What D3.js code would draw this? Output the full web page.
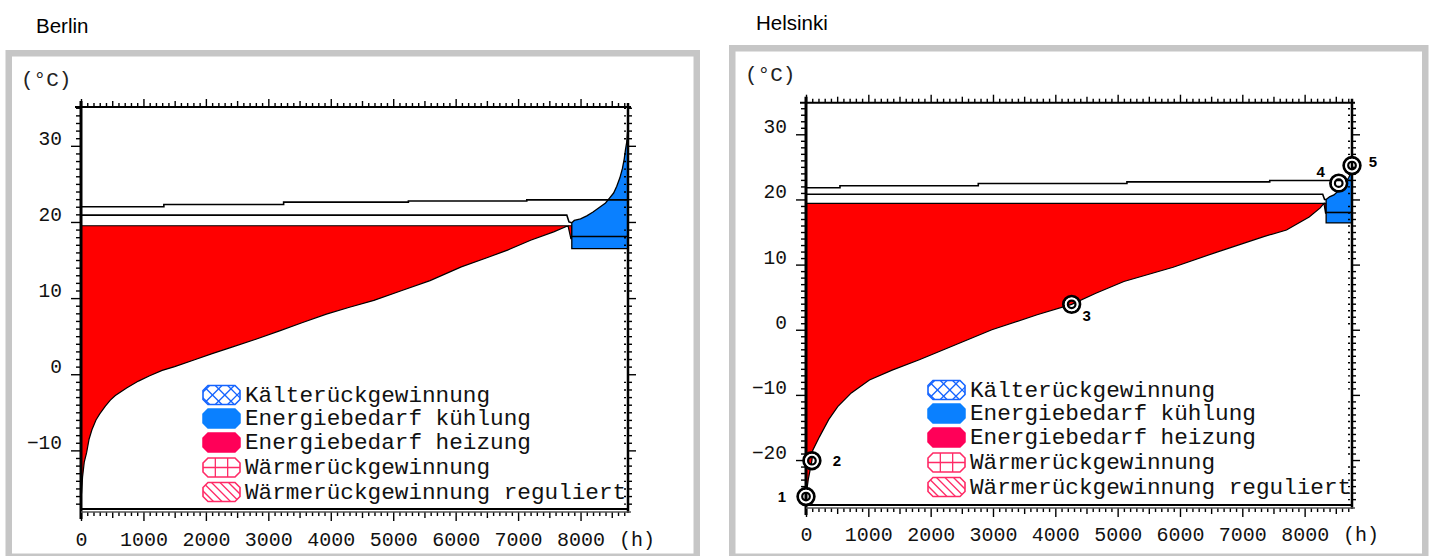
<!DOCTYPE html>
<html><head><meta charset="utf-8">
<script src="https://cdn.jsdelivr.net/npm/d3@7"></script>
<style>body{margin:0;background:#fff;} svg{display:block}</style>
</head><body>
<svg id="c" width="1429" height="556"></svg>
<script>
// ---------------- data ----------------
const hourTicks = [0,1000,2000,3000,4000,5000,6000,7000,8000];
const berlinTempTicks = [-10,0,10,20,30];
const helsinkiTempTicks = [-20,-10,0,10,20,30];
const legendLabels = ["Kälterückgewinnung","Energiebedarf kühlung","Energiebedarf heizung","Wärmerückgewinnung","Wärmerückgewinnung reguliert"];
const legendKinds = ["crossBlue","solidBlue","solidRed","gridPink","hatchPink"];

// Berlin
const berlinHeatHours = [0,10,25,53,90,130,175,240,300,390,470,550,730,920,1100,1300,1500,1820,2100,2430,2800,3180,3550,3930,4300,4690,5140,5590,6090,6500,6830,7200,7570,7800,7845,7858];
const berlinHeatTemps = [-16.3,-15.5,-13.5,-11.5,-10.3,-8.5,-7.3,-6.0,-5.2,-4.2,-3.4,-2.8,-1.8,-0.9,-0.2,0.5,1.0,1.9,2.7,3.6,4.6,5.7,6.8,7.9,8.8,9.7,11.0,12.3,14.1,15.3,16.3,17.6,18.7,19.5,17.8,17.8];
const berlinHeatTop = 19.5;
const berlinCoolHours = [7860,7900,8000,8100,8200,8300,8400,8470,8530,8580,8630,8670,8700,8720,8740,8755,8760];
const berlinCoolTemps = [19.9,20.2,20.4,20.8,21.3,21.9,22.5,23.2,23.8,24.7,25.8,27.0,28.3,29.5,30.5,32.0,32.2];
const berlinCoolBase = 16.5;
const berlinCoolMid = 18.1;
const berlinSupplyHours = [0,1327,3245,5243,7139,8760];
const berlinSupplyTemps = [22.0,22.3,22.6,22.75,22.9,22.9];
const berlinExhaustHours = [0,7780,7815,7860];
const berlinExhaustTemps = [20.9,20.9,20.0,19.9];

// Helsinki
const helsinkiHeatHours = [0,36,95,109,218,364,509,727,1018,1382,1818,2400,2982,3709,4262,4650,5100,5890,6618,7345,7709,8073,8250,8310,8335,8345];
const helsinkiHeatTemps = [-25.6,-23.0,-20.1,-18.5,-16.4,-13.8,-11.8,-9.7,-7.7,-6.2,-4.6,-2.3,0.0,2.3,3.9,5.6,7.4,9.6,12.0,14.3,15.3,17.3,18.7,19.4,17.9,17.9];
const helsinkiHeatTop = 19.4;
const helsinkiCoolHours = [8345,8400,8470,8540,8600,8660,8710,8740,8760];
const helsinkiCoolTemps = [20.0,20.4,20.7,21.3,21.9,22.6,23.4,24.0,24.6];
const helsinkiCoolBase = 16.4;
const helsinkiCoolMid = 18.0;
const helsinkiSupplyHours = [0,545,2764,5149,7440,8760];
const helsinkiSupplyTemps = [21.8,22.1,22.45,22.7,22.9,22.9];
const helsinkiExhaustHours = [0,8290,8320,8345];
const helsinkiExhaustTemps = [20.8,20.8,20.0,20.0];
const helsinkiMarkerLabels = ["1","2","3","4","5"];
const helsinkiMarkerHours = [0,95,4262,8547,8760];
const helsinkiMarkerTemps = [-25.6,-20.1,3.9,22.5,25.2];

// ---------------- layout / style ----------------
const RED = "#ff0000", BLUE = "#0a80ff";
const MONO = "'Liberation Mono', 'DejaVu Sans Mono', monospace";
const svg = d3.select("#c");
const defs = svg.append("defs");

const panels = [
  { title:"Berlin", tx:36, ty:33, box:[5.5,50,700,560], unitX:21, unitY:86,
    xr:[81,628], yr:[509,107], yDom:[-17.7,35.1], yTicks:berlinTempTicks,
    heatH:berlinHeatHours, heatT:berlinHeatTemps, heatTop:berlinHeatTop,
    coolH:berlinCoolHours, coolT:berlinCoolTemps, coolBase:berlinCoolBase, coolMid:berlinCoolMid,
    supH:berlinSupplyHours, supT:berlinSupplyTemps, exH:berlinExhaustHours, exT:berlinExhaustTemps,
    legX:203, legY:[395,418.5,442.5,467.5,492], xLabBase:546, markers:null },
  { title:"Helsinki", tx:756, ty:30, box:[729,45,1428.5,560], unitX:745, unitY:81,
    xr:[806,1352], yr:[505,102.7], yDom:[-26.9,34.85], yTicks:helsinkiTempTicks,
    heatH:helsinkiHeatHours, heatT:helsinkiHeatTemps, heatTop:helsinkiHeatTop,
    coolH:helsinkiCoolHours, coolT:helsinkiCoolTemps, coolBase:helsinkiCoolBase, coolMid:helsinkiCoolMid,
    supH:helsinkiSupplyHours, supT:helsinkiSupplyTemps, exH:helsinkiExhaustHours, exT:helsinkiExhaustTemps,
    legX:928, legY:[390,413.5,437.5,462.5,487], xLabBase:541,
    markers:{labels:helsinkiMarkerLabels, hours:helsinkiMarkerHours, temps:helsinkiMarkerTemps,
             off:[[-24,5.5],[25,5.5],[15,17],[-18,-6],[21,1]]} }
];

function octagon(x, y, w, h, c) {
  return `M${x+c},${y}H${x+w-c}L${x+w},${y+c}V${y+h-c}L${x+w-c},${y+h}H${x+c}L${x},${y+h-c}V${y+c}Z`;
}

panels.forEach((p, pi) => {
  const g = svg.append("g");
  const [bx0, by0, bx1, by1] = p.box;
  const bw = 6.5;
  g.append("rect").attr("x", bx0 + bw/2).attr("y", by0 + bw/2)
    .attr("width", bx1 - bx0 - bw).attr("height", by1 - by0 - bw)
    .attr("fill", "#fff").attr("stroke", "#c6c6c6").attr("stroke-width", bw);
  svg.append("text").attr("x", p.tx).attr("y", p.ty).text(p.title)
    .attr("font-family", "'Liberation Sans', Arial, sans-serif").attr("font-size", 20.5).attr("fill", "#000");
  g.append("text").attr("x", p.unitX).attr("y", p.unitY).text("(°C)")
    .attr("font-family", MONO).attr("font-size", 21).attr("fill", "#222");

  const x = d3.scaleLinear().domain([0, 8760]).range(p.xr);
  const y = d3.scaleLinear().domain(p.yDom).range(p.yr);

  // heating area
  const heat = p.heatH.map((h, i) => [h, p.heatT[i]]);
  g.append("path").datum(heat)
    .attr("d", d3.area().x(d => x(d[0])).y0(d => y(d[1])).y1(() => y(p.heatTop)))
    .attr("fill", RED).attr("stroke", "#000").attr("stroke-width", 1.2);
  // cooling area
  const cool = p.coolH.map((h, i) => [h, p.coolT[i]]);
  g.append("path").datum(cool)
    .attr("d", d3.area().x(d => x(d[0])).y0(() => y(p.coolBase)).y1(d => y(d[1])))
    .attr("fill", BLUE).attr("stroke", "#000").attr("stroke-width", 1.3);
  g.append("line").attr("x1", x(p.coolH[0])).attr("x2", x(8760))
    .attr("y1", y(p.coolMid)).attr("y2", y(p.coolMid)).attr("stroke", "#000").attr("stroke-width", 1.6);

  // supply (stepped) and exhaust lines
  const sup = p.supH.map((h, i) => [h, p.supT[i]]);
  g.append("path").datum(sup)
    .attr("d", d3.line().x(d => x(d[0])).y(d => y(d[1])).curve(d3.curveStepAfter))
    .attr("fill", "none").attr("stroke", "#000").attr("stroke-width", 1.6);
  const ex = p.exH.map((h, i) => [h, p.exT[i]]);
  g.append("path").datum(ex)
    .attr("d", d3.line().x(d => x(d[0])).y(d => y(d[1])))
    .attr("fill", "none").attr("stroke", "#000").attr("stroke-width", 1.6);

  // ---------- axes ----------
  const [xl, xrr] = p.xr, [yb, yt] = p.yr;
  const hMinor = d3.range(0, 8761, 100).filter(v => v % 500 !== 0);
  const hMid = d3.range(500, 8761, 1000);
  const tMinor = d3.range(Math.ceil(p.yDom[0]), Math.floor(p.yDom[1]) + 1).filter(v => v % 10 !== 0);
  const styleAxis = sel => { sel.select(".domain").remove(); sel.selectAll("line").attr("stroke", "#000").attr("stroke-width", 1.4); };

  // top
  g.append("g").attr("transform", `translate(0,${yt})`).call(d3.axisTop(x).tickValues(hMinor).tickSize(4).tickFormat("")).call(styleAxis);
  g.append("g").attr("transform", `translate(0,${yt})`).call(d3.axisTop(x).tickValues(hMid).tickSize(6).tickFormat("")).call(styleAxis);
  g.append("g").attr("transform", `translate(0,${yt})`).call(d3.axisTop(x).tickValues(hourTicks).tickSize(8).tickFormat("")).call(styleAxis);
  // bottom
  g.append("g").attr("transform", `translate(0,${yb+3})`).call(d3.axisBottom(x).tickValues(hMinor).tickSize(4).tickFormat("")).call(styleAxis);
  g.append("g").attr("transform", `translate(0,${yb+3})`).call(d3.axisBottom(x).tickValues(hMid).tickSize(6).tickFormat("")).call(styleAxis);
  const bx = g.append("g").attr("transform", `translate(0,${yb+3})`)
    .call(d3.axisBottom(x).tickValues(hourTicks).tickSize(9).tickFormat(d3.format("d"))).call(styleAxis);
  bx.selectAll("text").attr("y", p.xLabBase - yb - 3).attr("dy", null)
    .attr("font-family", MONO).attr("font-size", 20).attr("fill", "#111");
  g.append("text").attr("x", xrr + 9).attr("y", p.xLabBase).attr("text-anchor", "middle")
    .attr("font-family", MONO).attr("font-size", 20).attr("fill", "#111").text("(h)");
  // left
  g.append("g").attr("transform", `translate(${xl},0)`).call(d3.axisLeft(y).tickValues(tMinor).tickSize(5).tickFormat("")).call(styleAxis);
  const ly = g.append("g").attr("transform", `translate(${xl},0)`)
    .call(d3.axisLeft(y).tickValues(p.yTicks).tickSize(10).tickPadding(9).tickFormat(d => d < 0 ? "\u2212" + Math.abs(d) : d)).call(styleAxis);
  ly.selectAll("text").attr("dy", null).attr("y", -1.5)
    .attr("font-family", MONO).attr("font-size", 19.5).attr("fill", "#111");
  // right
  g.append("g").attr("transform", `translate(${xrr},0)`).call(d3.axisRight(y).tickValues(tMinor).tickSize(4).tickFormat("")).call(styleAxis);
  g.append("g").attr("transform", `translate(${xrr},0)`).call(d3.axisRight(y).tickValues(p.yTicks).tickSize(8).tickFormat("")).call(styleAxis);
  g.append("g").attr("transform", `translate(${xrr-2},0)`).call(d3.axisLeft(y).tickValues(tMinor).tickSize(2).tickFormat("")).call(styleAxis);

  // frame lines
  const fl = (x1, y1, x2, y2, w, c) => g.append("line").attr("x1", x1).attr("y1", y1).attr("x2", x2).attr("y2", y2)
    .attr("stroke", c || "#000").attr("stroke-width", w);
  fl(xl - 6, yt, xrr + 3, yt, 2);
  fl(xl, yt - 6, xl, yb + 10, 3);
  fl(xrr, yt - 4, xrr, yb + 4, 2.5);
  fl(xl, yb, xrr, yb, 2);
  fl(xl, yb + 3, xrr + 3, yb + 3, 1.5, "#555");

  // ---------- legend ----------
  const lw = 37, lh = 19;
  legendLabels.forEach((lab, i) => {
    const cy = p.legY[i], sx = p.legX, sy = cy - lh/2;
    const kind = legendKinds[i];
    const d = octagon(sx, sy, lw, lh, 5);
    const cid = `clip${pi}_${i}`;
    defs.append("clipPath").attr("id", cid).append("path").attr("d", d);
    const isBlue = kind.endsWith("Blue");
    const col = isBlue ? "#1464ff" : "#ff2a66";
    if (kind === "solidBlue") {
      g.append("path").attr("d", d).attr("fill", "#0a80ff").attr("stroke", "#0a80ff").attr("stroke-width", 1.5);
    } else if (kind === "solidRed") {
      g.append("path").attr("d", d).attr("fill", "#ff0058").attr("stroke", "#ff0058").attr("stroke-width", 1.5);
    } else {
      g.append("path").attr("d", d).attr("fill", "#fff");
      const lg = g.append("g").attr("clip-path", `url(#${cid})`).attr("stroke", col).attr("stroke-width", 1.3);
      if (kind === "crossBlue") {
        for (let k = -2; k < 5; k++) {
          lg.append("line").attr("x1", sx + k*12.3).attr("y1", sy).attr("x2", sx + k*12.3 + lh).attr("y2", sy + lh);
          lg.append("line").attr("x1", sx + k*12.3 + lh).attr("y1", sy).attr("x2", sx + k*12.3).attr("y2", sy + lh);
        }
      } else if (kind === "gridPink") {
        lg.append("line").attr("x1", sx).attr("x2", sx + lw).attr("y1", cy).attr("y2", cy);
        [1/3, 2/3].forEach(f => lg.append("line").attr("x1", sx + lw*f).attr("x2", sx + lw*f).attr("y1", sy).attr("y2", sy + lh));
      } else {
        for (let k = -3; k < 6; k++) {
          lg.append("line").attr("x1", sx + k*8.5).attr("y1", sy).attr("x2", sx + k*8.5 + lh).attr("y2", sy + lh);
        }
      }
      g.append("path").attr("d", d).attr("fill", "none").attr("stroke", col).attr("stroke-width", 1.6);
    }
    g.append("text").attr("x", sx + lw + 5).attr("y", cy + 6.5).text(lab)
      .attr("font-family", MONO).attr("font-size", 22.7).attr("fill", "#111");
  });

  // ---------- markers ----------
  if (p.markers) {
    const m = p.markers;
    m.labels.forEach((lab, i) => {
      const cx = x(m.hours[i]), cy = y(m.temps[i]);
      g.append("circle").attr("cx", cx).attr("cy", cy).attr("r", 7.4).attr("fill", "none").attr("stroke", "#fff").attr("stroke-width", 3);
      g.append("circle").attr("cx", cx).attr("cy", cy).attr("r", 8.3).attr("fill", "none").attr("stroke", "#000").attr("stroke-width", 2.8);
      g.append("circle").attr("cx", cx).attr("cy", cy).attr("r", 5.6).attr("fill", "none").attr("stroke", "#fff").attr("stroke-width", 2.4);
      g.append("circle").attr("cx", cx).attr("cy", cy).attr("r", 3.8).attr("fill", "none").attr("stroke", "#000").attr("stroke-width", 2.2);
      g.append("text").attr("x", cx + m.off[i][0]).attr("y", cy + m.off[i][1]).attr("text-anchor", "middle")
        .attr("font-family", "'Liberation Sans', Arial, sans-serif").attr("font-weight", "bold").attr("font-size", 15).text(lab);
    });
  }
});
</script>
</body></html>
